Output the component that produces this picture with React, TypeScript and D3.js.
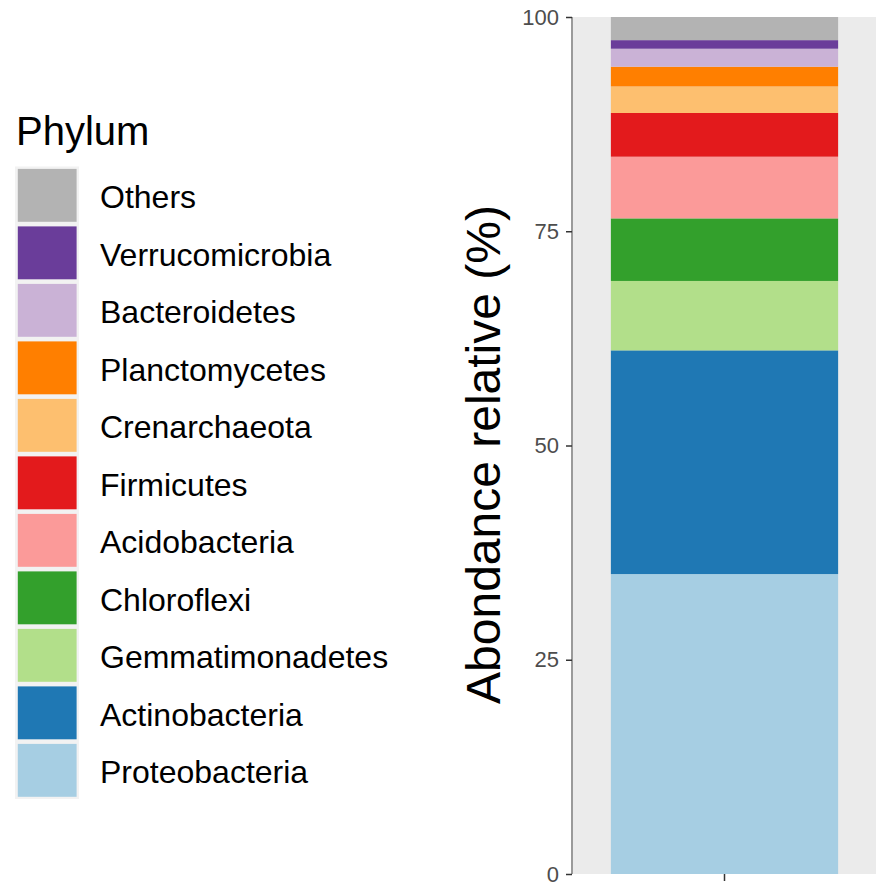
import React, { useEffect, useRef } from 'react';
import * as d3 from 'd3';

// phyla from bottom of the stack to the top
const phyla = [
  'Proteobacteria',
  'Actinobacteria',
  'Gemmatimonadetes',
  'Chloroflexi',
  'Acidobacteria',
  'Firmicutes',
  'Crenarchaeota',
  'Planctomycetes',
  'Bacteroidetes',
  'Verrucomicrobia',
  'Others',
];
const abundance = [35.0, 26.1, 8.1, 7.3, 7.2, 5.1, 3.1, 2.3, 2.1, 1.0, 2.7];
const colors = [
  '#A6CEE3', '#1F78B4', '#B2DF8A', '#33A02C', '#FB9A99', '#E31A1C',
  '#FDBF6F', '#FF7F00', '#CAB2D6', '#6A3D9A', '#B3B3B3',
];
const yTicks = [0, 25, 50, 75, 100];

const W = 876;
const H = 885;
const FONT = '"Liberation Sans", Arial, Helvetica, sans-serif';

const App = () => {
  const svgRef = useRef<SVGSVGElement>(null);

  useEffect(() => {
    const svg = d3.select(svgRef.current);
    svg.selectAll('*').remove();

    // panel
    const panel = { left: 573, right: 876, top: 17, bottom: 874 };
    const y = d3.scaleLinear().domain([0, 100]).range([panel.bottom, panel.top]);
    // ggplot discrete x: one category at 1, expanded by 0.6 each side
    const x = d3.scaleLinear().domain([0.4, 1.6]).range([panel.left, panel.right]);

    const color = d3.scaleOrdinal<string, string>().domain(phyla).range(colors);

    svg.append('rect')
      .attr('x', panel.left).attr('y', panel.top)
      .attr('width', panel.right - panel.left).attr('height', panel.bottom - panel.top)
      .attr('fill', '#EBEBEB');

    // stack the segments
    const rows = [Object.fromEntries(phyla.map((p, i) => [p, abundance[i]]))];
    const series = d3.stack<any>().keys(phyla)(rows);

    svg.append('g')
      .selectAll('rect')
      .data(series)
      .enter()
      .append('rect')
      .attr('x', x(0.55))
      .attr('width', x(1.45) - x(0.55))
      .attr('y', (s) => y(s[0][1]))
      .attr('height', (s) => y(s[0][0]) - y(s[0][1]))
      .attr('fill', (s) => color(s.key));

    // y axis
    const yAxis = svg.append('g').attr('transform', `translate(${panel.left - 1},0)`)
      .call(d3.axisLeft(y).tickValues(yTicks).tickSize(6).tickPadding(7));
    yAxis.select('.domain').attr('stroke', '#9A9A9A').attr('stroke-width', 2)
      .attr('d', `M0,${panel.bottom}V${panel.top}`);
    yAxis.selectAll('.tick line').attr('stroke', '#333333').attr('stroke-width', 1.5);
    yAxis.selectAll('.tick text')
      .attr('fill', '#4D4D4D')
      .style('font-family', FONT)
      .style('font-size', '22px');

    // x tick
    svg.append('line')
      .attr('x1', x(1)).attr('x2', x(1))
      .attr('y1', panel.bottom).attr('y2', panel.bottom + 7)
      .attr('stroke', '#333333').attr('stroke-width', 1.5);

    // y title
    svg.append('text')
      .attr('transform', `translate(500,${(panel.top + panel.bottom) / 2 + 9}) rotate(-90)`)
      .attr('text-anchor', 'middle')
      .style('font-family', FONT)
      .style('font-size', '48px')
      .attr('fill', '#000')
      .text('Abondance relative (%)');

    // legend
    const legend = svg.append('g');
    legend.append('text')
      .attr('x', 16).attr('y', 145)
      .style('font-family', FONT)
      .style('font-size', '40px')
      .text('Phylum');

    const keyTop = 166.5;
    const pitch = 57.5;
    const keyW = 64;
    const order = phyla.slice().reverse();

    legend.append('rect')
      .attr('x', 15).attr('y', keyTop)
      .attr('width', keyW).attr('height', pitch * order.length)
      .attr('fill', '#F2F2F2');

    const keys = legend.selectAll('g.key')
      .data(order)
      .enter()
      .append('g')
      .attr('class', 'key')
      .attr('transform', (_d, i) => `translate(15,${keyTop + i * pitch})`);

    keys.append('rect')
      .attr('x', 2.8).attr('y', 2.4)
      .attr('width', keyW - 5.2).attr('height', pitch - 4.6)
      .attr('fill', (d) => color(d));

    keys.append('text')
      .attr('x', 85).attr('y', pitch / 2 + 2)
      .attr('dominant-baseline', 'central')
      .style('font-family', FONT)
      .style('font-size', '32px')
      .text((d) => d);
  }, []);

  return (
    <svg
      ref={svgRef}
      width={W}
      height={H}
      style={{ position: 'absolute', left: 0, top: 0, display: 'block', background: '#fff' }}
    />
  );
};

export default App;
